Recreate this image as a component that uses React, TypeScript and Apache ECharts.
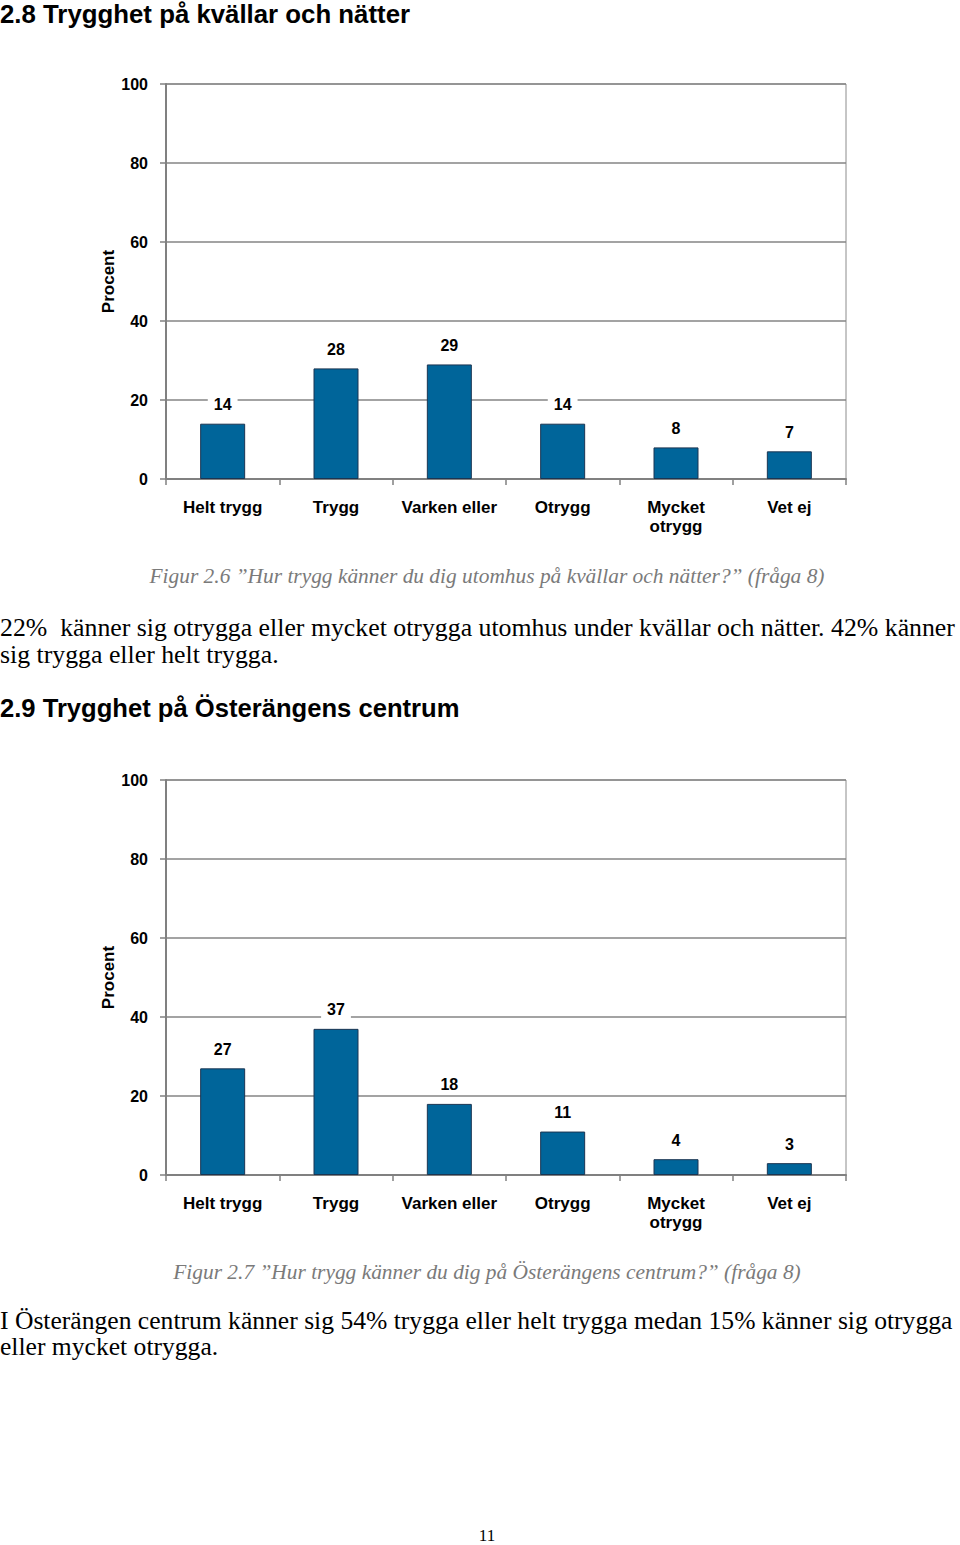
import React, { useEffect, useRef } from "react";
import * as echarts from "echarts";

const categories = ["Helt trygg", "Trygg", "Varken eller", "Otrygg", "Mycket\notrygg", "Vet ej"];
const eveningValues = [14, 28, 29, 14, 8, 7];
const centreValues = [27, 37, 18, 11, 4, 3];
const yTicks = [0, 20, 40, 60, 80, 100];

const heading1 = "2.8 Trygghet på kvällar och nätter";
const caption1 = "Figur 2.6 \u201dHur trygg känner du dig utomhus på kvällar och nätter?\u201d (fråga 8)";
const body1a = "22%  känner sig otrygga eller mycket otrygga utomhus under kvällar och nätter. 42% känner";
const body1b = "sig trygga eller helt trygga.";
const heading2 = "2.9 Trygghet på Österängens centrum";
const caption2 = "Figur 2.7 \u201dHur trygg känner du dig på Österängens centrum?\u201d (fråga 8)";
const body2a = "I Österängen centrum känner sig 54% trygga eller helt trygga medan 15% känner sig otrygga";
const body2b = "eller mycket otrygga.";
const pageNo = "11";

const SANS = "'Liberation Sans', Arial, sans-serif";
const SERIF = "'Liberation Serif', 'Times New Roman', serif";

export default function App() {
  const ref = useRef<HTMLDivElement>(null);
  useEffect(() => {
    if (!ref.current) return;
    const chart = echarts.init(ref.current, undefined, { renderer: "svg" });
    const gridDef = (top: number) => ({
      left: 166,
      top,
      width: 680,
      height: 395,
      show: true,
      borderColor: "#8c8c8c",
      borderWidth: 1,
      backgroundColor: "transparent",
    });
    const xAxisDef = (gridIndex: number) => ({
      type: "category",
      gridIndex,
      data: categories,
      axisLine: { lineStyle: { color: "#808080", width: 2 } },
      axisTick: { show: true, length: 6, lineStyle: { color: "#808080", width: 1.5 } },
      axisLabel: {
        color: "#000",
        fontFamily: SANS,
        fontWeight: "bold",
        fontSize: 17,
        lineHeight: 19,
        margin: 19,
        interval: 0,
      },
    });
    const yAxisDef = (gridIndex: number) => ({
      type: "value",
      gridIndex,
      min: 0,
      max: 100,
      interval: 20,
      name: "Procent",
      nameLocation: "middle",
      nameRotate: 90,
      nameGap: 49,
      nameMoveOverlap: false,
      nameTextStyle: { color: "#000", fontFamily: SANS, fontWeight: "bold", fontSize: 17 },
      axisLine: { show: true, lineStyle: { color: "#808080", width: 2 } },
      axisTick: { show: true, length: 6, lineStyle: { color: "#808080", width: 1.5 } },
      axisLabel: {
        color: "#000",
        fontFamily: SANS,
        fontWeight: "bold",
        fontSize: 16,
        margin: 18,
        formatter: (v: number) => (yTicks.includes(v) ? String(v) : ""),
      },
      splitLine: { show: true, lineStyle: { color: "#858585", width: 1.5 } },
    });
    const seriesDef = (idx: number, data: number[]) => ({
      type: "bar",
      xAxisIndex: idx,
      yAxisIndex: idx,
      data,
      barWidth: 45,
      itemStyle: { color: "#00659a", borderColor: "#1b3552", borderWidth: 1 },
      label: {
        show: true,
        position: "top",
        distance: 9,
        color: "#000",
        fontFamily: SANS,
        fontWeight: "bold",
        fontSize: 16,
        backgroundColor: "#fff",
        padding: [2, 6],
      },
    });
    const txt = (text: string, x: number, y: number, opts: any) => ({
      type: "text",
      x,
      y,
      style: { text, fill: "#000", verticalAlign: "middle", align: "left", ...opts },
    });
    chart.setOption({
      animation: false,
      backgroundColor: "#fff",
      grid: [gridDef(84), gridDef(780)],
      xAxis: [xAxisDef(0), xAxisDef(1)],
      yAxis: [yAxisDef(0), yAxisDef(1)],
      series: [seriesDef(0, eveningValues), seriesDef(1, centreValues)],
      graphic: [
        txt(heading1, 0, 14, { fontFamily: SANS, fontWeight: "bold", fontSize: 25.8 }),
        txt(caption1, 487, 576, { fontFamily: SERIF, fontStyle: "italic", fontSize: 21.4, fill: "#7a7a7a", align: "center" }),
        txt(body1a, 0, 627, { fontFamily: SERIF, fontSize: 25.8 }),
        txt(body1b, 0, 654, { fontFamily: SERIF, fontSize: 25.8 }),
        txt(heading2, 0, 708, { fontFamily: SANS, fontWeight: "bold", fontSize: 25.6 }),
        txt(caption2, 487, 1272, { fontFamily: SERIF, fontStyle: "italic", fontSize: 21.4, fill: "#7a7a7a", align: "center" }),
        txt(body2a, 0, 1320, { fontFamily: SERIF, fontSize: 25.6 }),
        txt(body2b, 0, 1346, { fontFamily: SERIF, fontSize: 25.6 }),
        txt(pageNo, 487, 1535, { fontFamily: SERIF, fontSize: 17, align: "center" }),
      ],
    });
    return () => chart.dispose();
  }, []);
  return <div ref={ref} style={{ position: "absolute", left: 0, top: 0, width: 960, height: 1545 }} />;
}
